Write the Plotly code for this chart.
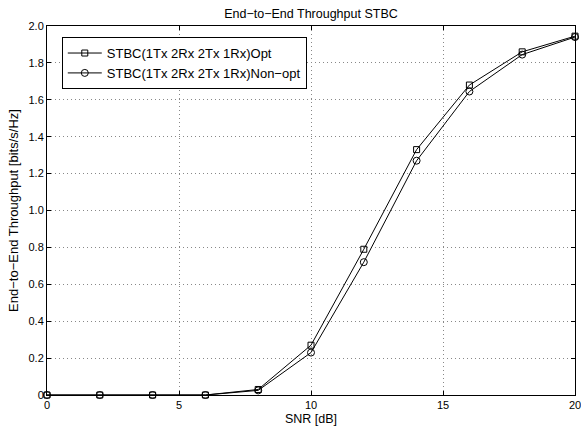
import plotly.graph_objects as go

snr = [0, 2, 4, 6, 8, 10, 12, 14, 16, 18, 20]
opt = [0, 0, 0, 0, 0.03, 0.27, 0.79, 1.33, 1.68, 1.86, 1.945]
nonopt = [0, 0, 0, 0, 0.025, 0.23, 0.72, 1.27, 1.645, 1.845, 1.94]

x_ticks = [0, 5, 10, 15, 20]
y_ticks = [0, 0.2, 0.4, 0.6, 0.8, 1.0, 1.2, 1.4, 1.6, 1.8, 2.0]
y_ticktext = ["0", "0.2", "0.4", "0.6", "0.8", "1.0", "1.2", "1.4", "1.6", "1.8", "2.0"]

font = "Liberation Sans, Arial, Helvetica, sans-serif"

fig = go.Figure()
fig.add_trace(go.Scatter(
    x=snr, y=opt, mode="lines+markers", name="STBC(1Tx 2Rx 2Tx 1Rx)Opt",
    line=dict(color="black", width=1),
    marker=dict(symbol="square-open", size=6, color="black", line=dict(width=1)),
    cliponaxis=False,
))
fig.add_trace(go.Scatter(
    x=snr, y=nonopt, mode="lines+markers", name="STBC(1Tx 2Rx 2Tx 1Rx)Non\u2212opt",
    line=dict(color="black", width=1),
    marker=dict(symbol="circle-open", size=7, color="black", line=dict(width=1)),
    cliponaxis=False,
))

axis_common = dict(
    showline=True, linecolor="black", linewidth=1, mirror="ticks",
    ticks="inside", ticklen=4, tickcolor="black",
    showgrid=True, gridcolor="#888888", griddash="1px,3px", gridwidth=1,
    zeroline=False, tickfont=dict(family=font, size=11, color="black"),
    automargin=False, ticklabeloverflow="allow",
)

fig.update_layout(
    width=581, height=429,
    margin=dict(l=47, r=6, t=26, b=34),
    paper_bgcolor="white", plot_bgcolor="white",
    font=dict(family=font, size=11, color="black"),
    title=dict(text="End\u2212to\u2212End Throughput STBC", x=0.5, xref="paper", xanchor="center",
               y=0.979, yanchor="top", font=dict(size=12.5)),
    xaxis=dict(range=[0, 20], tickvals=x_ticks,
               title=dict(text="SNR [dB]", standoff=4, font=dict(size=12.5)), **axis_common),
    yaxis=dict(range=[0, 2], tickvals=y_ticks, ticktext=y_ticktext,
               title=dict(text="End\u2212to\u2212End Throughput [bits/s/Hz]", standoff=6, font=dict(size=13)),
               **axis_common),
    legend=dict(x=0.028, y=0.97, xanchor="left", yanchor="top",
                bgcolor="white", bordercolor="black", borderwidth=1,
                font=dict(size=13), tracegroupgap=0, itemwidth=34),
    showlegend=True,
)

fig.write_html("out.html", config={"displayModeBar": False},
               post_script="document.body.style.margin='0px';")
